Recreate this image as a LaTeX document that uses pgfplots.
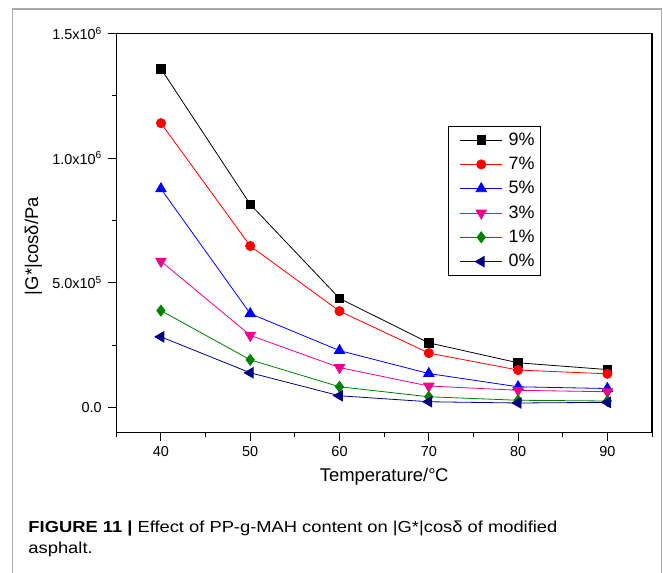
\documentclass[border=0pt]{standalone}
\usepackage{fontspec}
\setmainfont{Liberation Sans}
\usepackage{pgfplots}
\pgfplotsset{compat=1.18}
\definecolor{mygreen}{RGB}{0,128,0}
\definecolor{mynavy}{RGB}{0,0,128}
\definecolor{framegray}{RGB}{170,170,170}
\begin{document}
\begin{tikzpicture}[x=1bp,y=1bp]
\useasboundingbox (0,0) rectangle (663,-573);
\fill[white] (0,0) rectangle (663,-573);
\draw[line width=1.5bp, framegray] (12.7,-575) -- (12.7,-9) -- (661.7,-9) -- (661.7,-575);
\begin{axis}[
  at={(116.3bp,-432.7bp)}, anchor=south west,
  scale only axis, width=535.7bp, height=399.4bp,
  xmin=35, xmax=95, ymin=-100000, ymax=1500000,
  xtick={40,50,60,70,80,90},
  minor xtick={35,45,55,65,75,85,95},
  ytick={0,500000,1000000,1500000},
  minor ytick={250000,750000,1250000},
  yticklabels={0.0, 5.0x10\textsuperscript{5}, 1.0x10\textsuperscript{6}, 1.5x10\textsuperscript{6}},
  scaled y ticks=false, scaled x ticks=false,
  /pgf/number format/assume math mode=true,
  tick pos=left, tick align=outside,
  major tick length=8bp, minor tick length=4bp,
  every tick/.style={black, line width=0.9bp},
  axis line style={line width=1.1bp},
  ticklabel style={font=\fontsize{14.5}{16}\selectfont},
  yticklabel style={xshift=-3bp},
  xticklabel style={yshift=-2bp},
  xlabel={Temperature/°\kern-0.5bp C},
  ylabel={|G*|cosδ/Pa},
  label style={font=\fontsize{18.5}{21}\selectfont},
  xlabel style={at={(rel axis cs:0.5,-0.1217)}, anchor=base},
  ylabel style={at={(rel axis cs:-0.1546,0.467)}, anchor=center},
  every axis plot/.append style={line width=0.8bp},
  legend style={at={(rel axis cs:0.6186,0.768)}, anchor=north west, draw=black, line width=0.9bp,
    font=\fontsize{18}{20}\selectfont, cells={anchor=west},
    nodes={inner sep=0pt, text height=13bp, text depth=3bp},
    row sep=8.3bp, column sep=6bp, inner xsep=6bp, inner ysep=5.7bp},
  legend image code/.code={\path (0bp,0bp); \draw[mark repeat=2,mark phase=2,line width=0.8bp,#1] plot coordinates {(5.7bp,0bp)(26.7bp,0bp)(47.7bp,0bp)};},
]
\addplot[black, mark=square*, mark size=4.3bp] coordinates {(40,1358000)(50,815000)(60,438000)(70,260000)(80,180000)(90,153000)};
\addlegendentry{9\%}
\addplot[red, mark=*, mark size=4.6bp] coordinates {(40,1140000)(50,648000)(60,387000)(70,219000)(80,151000)(90,136000)};
\addlegendentry{7\%}
\addplot[blue, mark=triangle*, mark size=6bp] coordinates {(40,877000)(50,377000)(60,229000)(70,137000)(80,84000)(90,77000)};
\addlegendentry{5\%}
\addplot[magenta, mark=triangle*, mark size=6bp, mark options={rotate=180}] coordinates {(40,587000)(50,290000)(60,161000)(70,87000)(80,70000)(90,64000)};
\addlegendentry{3\%}
\addplot[mygreen, mark=diamond*, mark size=5.5bp] coordinates {(40,389000)(50,192000)(60,84000)(70,44000)(80,30000)(90,27000)};
\addlegendentry{1\%}
\addplot[mynavy, mark=triangle*, mark size=6bp, mark options={rotate=90}] coordinates {(40,284000)(50,140000)(60,48000)(70,24000)(80,19000)(90,21600)};
\addlegendentry{0\%}
\end{axis}
\node[anchor=base west, inner sep=0, font=\fontsize{16}{18}\selectfont] at (28.3,-532) {\scalebox{1.15}[1]{\textbf{FIGURE 11 |} Effect of PP-g-MAH content on |G*|cosδ of modified}};
\node[anchor=base west, inner sep=0, font=\fontsize{16}{18}\selectfont] at (28.3,-553) {\scalebox{1.15}[1]{asphalt.}};
\end{tikzpicture}
\end{document}
